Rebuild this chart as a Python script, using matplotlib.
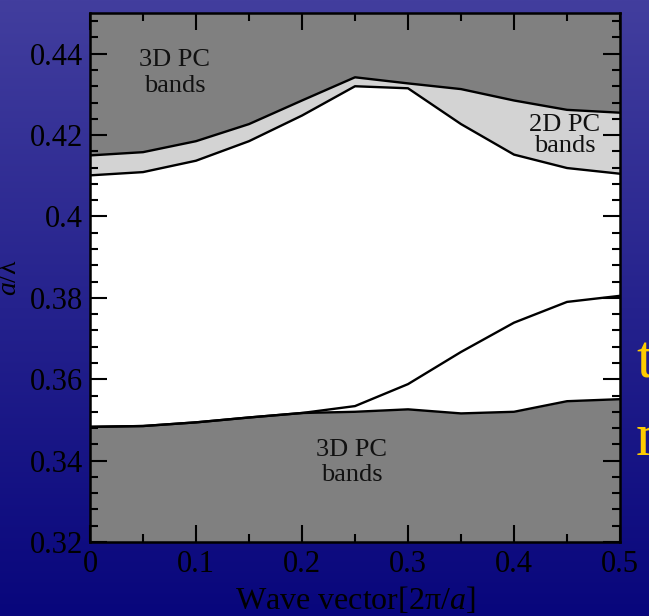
import matplotlib
matplotlib.use("Agg")
import matplotlib.pyplot as plt
import matplotlib.ticker as ticker
import numpy as np
from matplotlib import rcParams

rcParams['font.family'] = 'Liberation Serif'
rcParams['mathtext.fontset'] = 'custom'
rcParams['mathtext.rm'] = 'Liberation Serif'
rcParams['mathtext.it'] = 'Liberation Serif:italic'

# --- band edges

k = [0.0, 0.05, 0.1, 0.15, 0.2, 0.25, 0.3, 0.35, 0.4, 0.45, 0.5]

# lower edge of the upper 3D PC bands
upper_3d = [0.4150, 0.4158, 0.4185, 0.4227, 0.4285, 0.4342, 0.4327, 0.4313, 0.4285, 0.4262, 0.4255]
# lower edge of the upper 2D PC bands
upper_2d = [0.4101, 0.4109, 0.4137, 0.4185, 0.4248, 0.4320, 0.4315, 0.4227, 0.4152, 0.4119, 0.4105]
# upper edge of the lower 3D PC bands
lower_3d = [0.3483, 0.3485, 0.3494, 0.3506, 0.3517, 0.3520, 0.3526, 0.3516, 0.3520, 0.3546, 0.3551]
# upper edge of the lower 2D PC band
lower_2d = [0.3483, 0.3485, 0.3494, 0.3506, 0.3517, 0.3534, 0.3588, 0.3667, 0.3739, 0.3790, 0.3805]

ymin, ymax = 0.32, 0.45

fig = plt.figure(figsize=(6.49, 6.16), dpi=100)

# slide background gradient
bg = fig.add_axes([0, 0, 1, 1], zorder=-1)
top = np.array([66, 62, 158]) / 255
bot = np.array([8, 6, 124]) / 255
t = np.linspace(0, 1, 256)[:, None]
grad = top[None, :] * (1 - t) + bot[None, :] * t
bg.imshow(grad[:, None, :].repeat(2, axis=1), aspect="auto", extent=[0, 1, 0, 1])
bg.axis("off")

ax = fig.add_axes([90/649, 74/616, 530/649, 529/616])
ax.set_facecolor("white")

ax.fill_between(k, upper_3d, ymax, color="#808080", lw=0)
ax.fill_between(k, upper_2d, upper_3d, color="#d3d3d3", lw=0)
ax.fill_between(k, ymin, lower_3d, color="#808080", lw=0)

for y in [upper_3d, upper_2d, lower_3d, lower_2d]:
    ax.plot(k, y, color="black", lw=1.7, zorder=3)

ax.set_xlim(0, 0.5)
ax.set_ylim(ymin, ymax)

ax.xaxis.set_major_locator(ticker.MultipleLocator(0.1))
ax.xaxis.set_minor_locator(ticker.MultipleLocator(0.05))
ax.yaxis.set_major_locator(ticker.MultipleLocator(0.02))
ax.yaxis.set_minor_locator(ticker.MultipleLocator(0.004))
ax.xaxis.set_major_formatter(ticker.FuncFormatter(lambda v, p: f"{v:g}"))
ax.yaxis.set_major_formatter(ticker.FuncFormatter(lambda v, p: f"{v:.2f}".rstrip("0").rstrip(".")))

ax.tick_params(which="both", direction="in", top=True, right=True, width=1.5, colors="black")
ax.tick_params(which="major", length=12, labelsize=22, pad=6)
ax.tick_params(which="minor", length=6)
ax.tick_params(axis="y", which="major", pad=5)

for s in ax.spines.values():
    s.set_linewidth(1.8)
    s.set_zorder(4)

ax.set_xlabel("Wave vector[2π/$a$]", fontsize=23, color="black")
ax.xaxis.set_label_coords(0.5, -0.081)
ax.set_ylabel("$a$/λ", fontsize=20, color="black")
ax.yaxis.set_label_coords(-0.128, 0.5)

ax.text(0.08, 0.4353, "3D PC\nbands", ha="center", va="center", fontsize=19,
        linespacing=1.25, color="#111111", zorder=5)
ax.text(0.247, 0.3396, "3D PC\nbands", ha="center", va="center", fontsize=19,
        linespacing=1.2, color="#111111", zorder=5)
ax.text(0.448, 0.4200, "2D PC\nbands", ha="center", va="center", fontsize=19,
        linespacing=0.95, color="#111111", zorder=5)

# cut-off slide text at right edge
fig.text(636/649, 1 - 378/616, "t", fontsize=44, color="#ffcc00", ha="left", va="baseline")
fig.text(636/649, 1 - 455/616, "n", fontsize=44, color="#ffcc00", ha="left", va="baseline")

plt.savefig("out.png", dpi=100)
